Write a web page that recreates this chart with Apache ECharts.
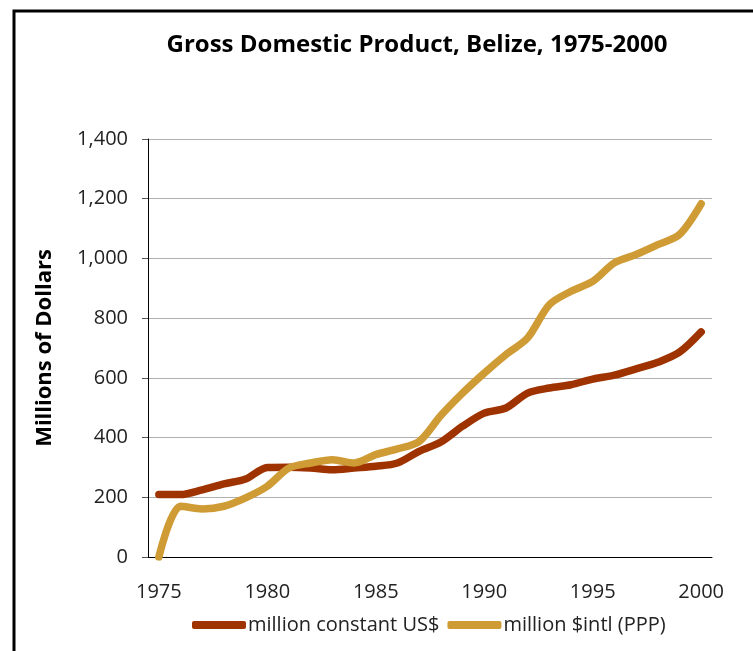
<!DOCTYPE html>
<html>
<head>
<meta charset="utf-8">
<title>Gross Domestic Product, Belize, 1975-2000</title>
<script src="https://cdn.jsdelivr.net/npm/echarts@6/dist/echarts.min.js"></script>
<style>
  html, body { margin: 0; padding: 0; background: #fff; }
  #chart { width: 753px; height: 651px; }
</style>
</head>
<body>
<div id="chart"></div>
<script>
// years on the x axis
const years = ['1975', '1976', '1977', '1978', '1979', '1980', '1981', '1982', '1983',
  '1984', '1985', '1986', '1987', '1988', '1989', '1990', '1991', '1992', '1993',
  '1994', '1995', '1996', '1997', '1998', '1999', '2000']

// million constant US$
const constantUSD = [209, 209, 225, 245, 261, 300, 301, 298, 292, 298, 304, 315, 354,
  385, 438, 482, 499, 549, 566, 577, 596, 609, 630, 652, 686, 754]

// million $intl (PPP)
const intlPPP = [0, 170, 161, 170, 198, 237, 298, 315, 326, 315, 343, 362, 387,
  474, 549, 616, 678, 734, 845, 890, 923, 985, 1013, 1046, 1080, 1183]

const seriesNames = ['million constant US$', 'million $intl (PPP)']
const seriesColors = ['#9e3300', '#cf9b34']

const FONT = '"Open Sans", "Noto Sans", sans-serif'

const chart = echarts.init(document.getElementById('chart'), null, { renderer: 'canvas' })

chart.setOption({
  backgroundColor: '#fff',
  animation: false,
  graphic: [{
    type: 'rect',
    shape: { x: 14, y: 11, width: 900, height: 800 },
    style: { fill: 'none', stroke: '#000', lineWidth: 3 },
    silent: true
  }],
  title: {
    text: 'Gross Domestic Product, Belize, 1975-2000',
    left: 412,
    top: 28,
    textAlign: 'center',
    textStyle: {
      fontFamily: FONT,
      fontSize: 24,
      fontWeight: 'bold',
      color: '#000'
    }
  },
  legend: {
    data: seriesNames,
    bottom: 11,
    left: 187,
    itemWidth: 54,
    itemHeight: 8,
    itemGap: 8,
    icon: 'roundRect',
    textStyle: {
      fontFamily: FONT,
      fontSize: 20,
      color: '#222',
      padding: [0, 0, 0, -3]
    }
  },
  grid: {
    left: 148,
    right: 41,
    top: 139,
    bottom: 94,
    containLabel: false
  },
  xAxis: {
    type: 'category',
    data: years,
    boundaryGap: true,
    axisLine: { lineStyle: { color: '#000', width: 1 } },
    axisTick: { show: false },
    axisLabel: {
      interval: 4,
      margin: 25,
      fontFamily: FONT,
      fontSize: 20,
      color: '#222'
    },
    splitLine: { show: false }
  },
  yAxis: {
    type: 'value',
    min: 0,
    max: 1400,
    interval: 200,
    name: 'Millions of Dollars',
    nameLocation: 'middle',
    nameGap: 92,
    nameTextStyle: {
      fontFamily: FONT,
      fontSize: 22,
      fontWeight: 'bold',
      color: '#000'
    },
    axisLine: { show: true, lineStyle: { color: '#000', width: 1 } },
    axisTick: { show: true, length: 6, lineStyle: { color: '#555' } },
    axisLabel: {
      margin: 20,
      fontFamily: FONT,
      fontSize: 20,
      color: '#222',
      formatter: function(value) {
        return value.toLocaleString('en-US')
      }
    },
    splitLine: { show: true, lineStyle: { color: '#b0b0b0', width: 1 } }
  },
  series: [{
    name: seriesNames[0],
    type: 'line',
    data: constantUSD,
    smooth: 0.3,
    showSymbol: false,
    symbol: 'none',
    itemStyle: { color: seriesColors[0] },
    lineStyle: { color: seriesColors[0], width: 7.5, cap: 'round', join: 'round' },
    z: 3
  }, {
    name: seriesNames[1],
    type: 'line',
    data: intlPPP,
    smooth: 0.3,
    showSymbol: false,
    symbol: 'none',
    itemStyle: { color: seriesColors[1] },
    lineStyle: { color: seriesColors[1], width: 7.5, cap: 'round', join: 'round' },
    z: 4
  }]
})
</script>
</body>
</html>
